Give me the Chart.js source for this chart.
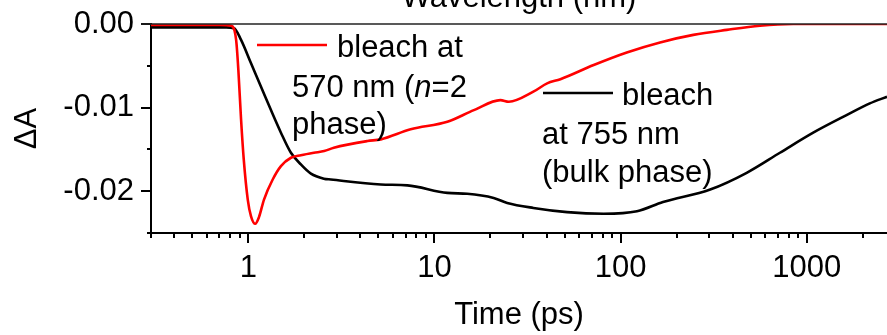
<!DOCTYPE html>
<html>
  <head>
    <script src="https://cdn.jsdelivr.net/npm/chart.js"></script>
    <style>
      body { margin: 0; background: #fff; }
    </style>
  </head>
  <body>
    <canvas id="kinetics" width="887" height="335"></canvas>

    <script>
      const FONT = "'Liberation Sans', Arial, sans-serif";

      // bleach at 570 nm (n=2 phase)
      const redTime = [0.3, 0.5, 0.7, 0.81, 0.86, 0.884, 0.914, 0.945, 0.993, 1.034, 1.09, 1.141,
        1.214, 1.352, 1.497, 1.694, 1.917, 2.25, 2.556, 2.88, 4.37, 5.15, 7.45, 11.73, 16.29,
        22.6, 25.1, 34.0, 40.3, 47.5, 71.7, 108, 163, 246, 372, 561, 847, 1500, 2700];
      const redDA = [-0.0001, -0.0001, -0.0001, -0.0002, -0.0019, -0.0055, -0.0114, -0.0162, -0.0210, -0.0230, -0.0239, -0.0231,
        -0.0210, -0.0186, -0.0170, -0.0160, -0.0157, -0.0154, -0.0152, -0.0148, -0.0140, -0.0138, -0.0126, -0.0117, -0.0103,
        -0.0091, -0.0093, -0.0081, -0.0071, -0.0066, -0.0049, -0.0034, -0.0022, -0.0013, -0.0007, -0.0002, 0.0, 0.0, 0.0];

      // bleach at 755 nm (bulk phase)
      const blackTime = [0.3, 0.5, 0.76, 0.838, 0.914, 1.034, 1.170, 1.323, 1.497, 1.694, 1.917, 2.169,
        2.546, 2.776, 5.15, 7.16, 11.73, 15.0, 20.8, 24.6, 34.0, 51.6, 81.1, 122.5, 169, 303, 476,
        718, 1084, 1637, 2183, 2700];
      const blackDA = [-0.0004, -0.0004, -0.0004, -0.0005, -0.0019, -0.0047, -0.0075, -0.0103, -0.0130, -0.0154, -0.0168, -0.0179,
        -0.0185, -0.0186, -0.0192, -0.0193, -0.0202, -0.0203, -0.0208, -0.0214, -0.0220, -0.0225, -0.0227, -0.0224, -0.0213, -0.0198, -0.0178,
        -0.0154, -0.0130, -0.0109, -0.0095, -0.0087];

      const xMin = 0.3, xMax = 2700;
      const yMin = -0.025, yMax = 0;
      const xLabelTicks = [1, 10, 100, 1000];
      const yTickValues = [0, -0.005, -0.01, -0.015, -0.02, -0.025];

      function toPoints(xs, ys) {
        return xs.map((x, i) => ({ x: x, y: ys[i] }));
      }

      // tick marks, top frame line and in-plot labels
      const decorations = {
        id: "decorations",
        afterDraw(chart) {
          const ctx = chart.ctx;
          const xs = chart.scales.x;
          const ys = chart.scales.y;
          const area = chart.chartArea;
          ctx.save();
          ctx.strokeStyle = "#000";
          ctx.lineWidth = 2;
          ctx.beginPath();
          for (let d = 0.1; d <= 1000; d *= 10) {
            for (let m = 1; m <= 9; m++) {
              const v = m * d;
              if (v < xMin - 1e-9 || v > xMax) continue;
              const px = Math.round(xs.getPixelForValue(v));
              const len = m === 1 ? 10 : 5;
              ctx.moveTo(px, area.bottom);
              ctx.lineTo(px, area.bottom + len);
            }
          }
          yTickValues.forEach(v => {
            const py = Math.round(ys.getPixelForValue(v));
            const major = Math.round(v * 1000) % 10 === 0;
            ctx.moveTo(area.left, py);
            ctx.lineTo(area.left - (major ? 10 : 4), py);
          });
          ctx.stroke();

          // frame line along the top
          ctx.lineWidth = 1.5;
          ctx.strokeStyle = "#222";
          ctx.beginPath();
          ctx.moveTo(area.left - 10, area.top);
          ctx.lineTo(chart.width, area.top);
          ctx.stroke();

          ctx.fillStyle = "#000";
          ctx.textBaseline = "alphabetic";
          ctx.textAlign = "center";
          ctx.font = "31px " + FONT;
          ctx.fillText("Wavelength (nm)", (area.left + area.right) / 2, 7);

          // series labels
          ctx.textAlign = "left";
          ctx.lineWidth = 2.6;
          ctx.strokeStyle = "#ff0000";
          ctx.beginPath();
          ctx.moveTo(257, 45);
          ctx.lineTo(327, 45);
          ctx.stroke();
          ctx.strokeStyle = "#000";
          ctx.beginPath();
          ctx.moveTo(543, 93);
          ctx.lineTo(613, 93);
          ctx.stroke();

          ctx.font = "31px " + FONT;
          ctx.fillText("bleach at", 337, 57);
          let tx = 292;
          ctx.fillText("570 nm (", tx, 97);
          tx += ctx.measureText("570 nm (").width;
          ctx.font = "italic 31px " + FONT;
          ctx.fillText("n", tx, 97);
          tx += ctx.measureText("n").width;
          ctx.font = "31px " + FONT;
          ctx.fillText("=2", tx, 97);
          ctx.fillText("phase)", 292, 134);

          ctx.fillText("bleach", 622, 105);
          ctx.fillText("at 755 nm", 542, 144);
          ctx.fillText("(bulk phase)", 542, 182);
          ctx.restore();
        }
      };

      const ctx = document.getElementById("kinetics").getContext("2d");
      new Chart(ctx, {
        type: "line",
        data: {
          datasets: [
            {
              label: "bleach at 570 nm (n=2 phase)",
              data: toPoints(redTime, redDA),
              borderColor: "#ff0000",
              borderWidth: 2.6,
              pointRadius: 0,
              cubicInterpolationMode: "monotone",
              fill: false,
            },
            {
              label: "bleach at 755 nm (bulk phase)",
              data: toPoints(blackTime, blackDA),
              borderColor: "#000000",
              borderWidth: 2.6,
              pointRadius: 0,
              cubicInterpolationMode: "monotone",
              fill: false,
            },
          ],
        },
        options: {
          responsive: false,
          animation: false,
          devicePixelRatio: 1,
          layout: { padding: { top: 24, left: 0, right: 0, bottom: 0 } },
          plugins: { legend: { display: false }, tooltip: { enabled: false } },
          scales: {
            x: {
              type: "logarithmic",
              min: xMin,
              max: xMax,
              grid: { display: false, drawTicks: false },
              border: { display: true, color: "#000", width: 2 },
              afterFit: s => {
                s.height = 102;
                s.paddingLeft = 0;
                s.paddingRight = 0;
              },
              ticks: {
                autoSkip: false,
                maxRotation: 0,
                padding: 17,
                color: "#000",
                font: { family: FONT, size: 31 },
                callback: v => xLabelTicks.some(t => Math.abs(t - v) < 1e-9) ? String(v) : "",
              },
              title: {
                display: true,
                text: "Time (ps)",
                color: "#000",
                font: { family: FONT, size: 31 },
                padding: { top: 0, bottom: 1 },
              },
            },
            y: {
              min: yMin,
              max: yMax,
              grid: { display: false, drawTicks: false },
              border: { display: true, color: "#000", width: 2 },
              afterFit: s => {
                s.width = 151;
                s.paddingTop = 0;
                s.paddingBottom = 0;
              },
              ticks: {
                stepSize: 0.005,
                autoSkip: false,
                padding: 17,
                color: "#000",
                font: { family: FONT, size: 31 },
                callback: v => Math.round(v * 1000) % 10 === 0 ? v.toFixed(2) : "",
              },
              title: {
                display: true,
                text: "ΔA",
                color: "#000",
                font: { family: FONT, size: 31 },
                padding: { top: 9, bottom: 0 },
              },
            },
          },
        },
        plugins: [decorations],
      });
    </script>
  </body>
</html>
